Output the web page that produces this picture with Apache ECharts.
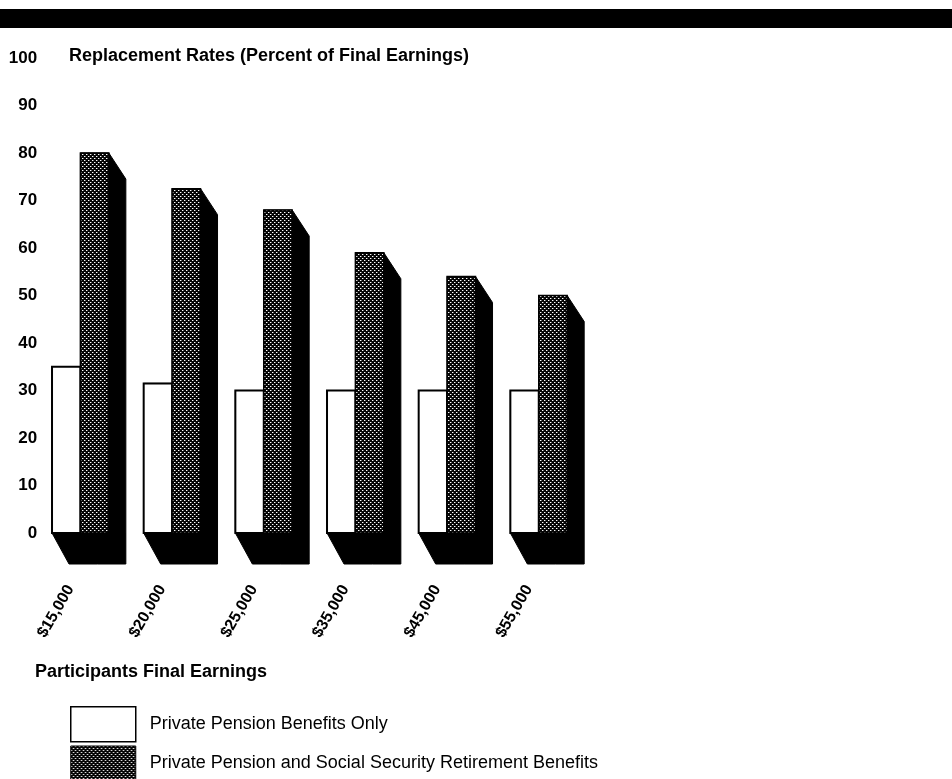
<!DOCTYPE html>
<html>
<head>
<meta charset="utf-8">
<script src="https://cdn.jsdelivr.net/npm/echarts@6/dist/echarts.min.js"></script>
<style>
  html, body { margin: 0; padding: 0; background: #fff; }
  #chart { width: 952px; height: 779px; }
</style>
</head>
<body>
<div id="chart"></div>
<script>
// Participants' final earnings brackets
const categories = ['$15,000', '$20,000', '$25,000', '$35,000', '$45,000', '$55,000'];
// Replacement rates, percent of final earnings
const privateOnly = [35, 31.5, 30, 30, 30, 30];
const withSocialSecurity = [80, 72.5, 68, 59, 54, 50];
// Value axis range
const yMin = 0, yMax = 100, yStep = 10;

const seriesNames = [
  'Private Pension Benefits Only',
  'Private Pension and Social Security Retirement Benefits'
];

const FONT = '"Liberation Sans", Arial, Helvetica, sans-serif';

// Stippled fill: black ground with a diagonal grid of white dots
function makeStipple() {
  const c = document.createElement('canvas');
  c.width = 4; c.height = 4;
  const g = c.getContext('2d');
  g.fillStyle = '#050505';
  g.fillRect(0, 0, 4, 4);
  g.fillStyle = '#ffffff';
  g.fillRect(0, 0, 1, 1);
  g.fillRect(2, 2, 1, 1);
  g.fillStyle = '#6a6a6a';
  g.fillRect(1, 0, 1, 1);
  g.fillRect(3, 2, 1, 1);
  return c;
}
const stipple = { image: makeStipple(), repeat: 'repeat' };

// Oblique depth of each block
const DEPTH_X = 17, DEPTH_TOP_Y = 26, DEPTH_BOTTOM_Y = 31;
const BAR_RATIO = 0.31;

function makeRender(side, faceStyle) {
  return function (params, api) {
    const i = api.value(0);
    const v = api.value(1);
    const top = api.coord([i, v]);
    const base = api.coord([i, 0]);
    const w = api.size([1, 0])[0] * BAR_RATIO;
    const x0 = side < 0 ? top[0] - w : top[0];
    const x1 = x0 + w;
    const yt = top[1], yb = base[1];
    return {
      type: 'group',
      children: [
        {
          type: 'polygon',
          shape: {
            points: [
              [x0, yt], [x1, yt],
              [x1 + DEPTH_X, yt + DEPTH_TOP_Y],
              [x1 + DEPTH_X, yb + DEPTH_BOTTOM_Y],
              [x0 + DEPTH_X, yb + DEPTH_BOTTOM_Y],
              [x0, yb]
            ]
          },
          style: { fill: '#000', stroke: '#000', lineWidth: 1 }
        },
        {
          type: 'rect',
          shape: { x: x0, y: yt, width: w, height: yb - yt },
          style: faceStyle
        }
      ]
    };
  };
}

const chart = echarts.init(document.getElementById('chart'), null, { renderer: 'canvas' });

chart.setOption({
  backgroundColor: '#fff',
  animation: false,
  title: [
    {
      text: 'Replacement Rates (Percent of Final Earnings)',
      left: 69, top: 47, padding: 0,
      textStyle: { fontFamily: FONT, fontSize: 18, fontWeight: 'bold', color: '#000' }
    },
    {
      text: 'Participants Final Earnings',
      left: 35, top: 663, padding: 0,
      textStyle: { fontFamily: FONT, fontSize: 18, fontWeight: 'bold', color: '#000' }
    }
  ],
  graphic: [
    { type: 'rect', left: 0, top: 9, shape: { width: 952, height: 19 }, style: { fill: '#000' } }
  ],
  grid: { left: 34.6, width: 550, top: 58, height: 475, containLabel: false },
  legend: {
    orient: 'vertical',
    left: 70, top: 706,
    width: 760, height: 120,
    padding: 0,
    itemWidth: 65, itemHeight: 35, itemGap: 3,
    selectedMode: false,
    textStyle: { fontFamily: FONT, fontSize: 18, color: '#000', padding: [0, 0, 0, 9] },
    data: [
      { name: seriesNames[0], icon: 'rect', itemStyle: { color: '#fff', borderColor: '#000', borderWidth: 1.5 } },
      { name: seriesNames[1], icon: 'rect', itemStyle: { color: stipple, borderColor: '#000', borderWidth: 1 } }
    ]
  },
  xAxis: {
    type: 'category',
    data: categories,
    axisLine: { show: false },
    axisTick: { show: false },
    splitLine: { show: false },
    axisLabel: {
      interval: 0,
      rotate: 60,
      margin: 36,
      padding: [0, 20, 0, 0],
      fontFamily: FONT, fontSize: 16, fontWeight: 'bold', color: '#000'
    }
  },
  yAxis: {
    type: 'value',
    min: yMin, max: yMax, interval: yStep,
    offset: -2.5,
    axisLine: { show: false },
    axisTick: { show: false },
    splitLine: { show: false },
    axisLabel: { margin: 0, fontFamily: FONT, fontSize: 17, fontWeight: 'bold', color: '#000' }
  },
  series: [
    {
      name: seriesNames[0],
      type: 'custom',
      z: 2,
      itemStyle: { color: '#fff', borderColor: '#000' },
      renderItem: makeRender(-1, { fill: '#fff', stroke: '#000', lineWidth: 2 }),
      encode: { x: 0, y: 1 },
      data: privateOnly.map((v, i) => [i, v])
    },
    {
      name: seriesNames[1],
      type: 'custom',
      z: 3,
      itemStyle: { color: stipple, borderColor: '#000' },
      renderItem: makeRender(1, { fill: stipple, stroke: '#000', lineWidth: 1.5 }),
      encode: { x: 0, y: 1 },
      data: withSocialSecurity.map((v, i) => [i, v])
    }
  ]
});
</script>
</body>
</html>
